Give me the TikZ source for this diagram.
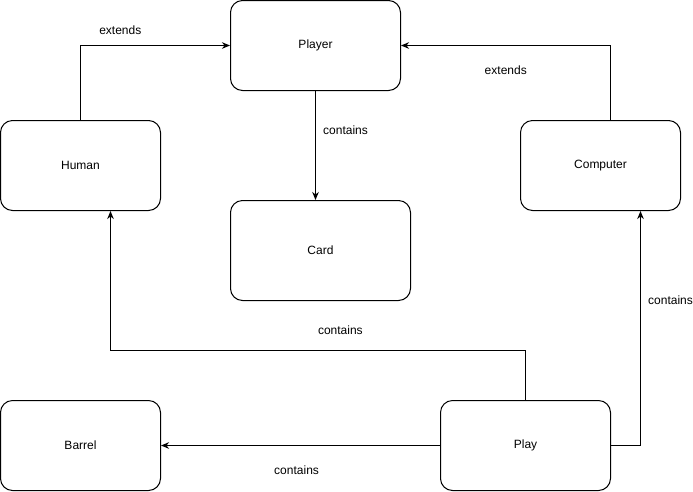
\documentclass[tikz,border=0pt]{standalone}
\usepackage{fontspec}
\setmainfont{Liberation Sans}
\usetikzlibrary{arrows.meta}

\begin{document}
\begin{tikzpicture}[x=1pt,y=-1pt,>={Stealth[length=8pt,width=6.5pt,inset=2.5pt]},line width=1pt,
  font=\fontsize{12}{14}\selectfont,
  box/.style={draw,rounded corners=12pt,minimum width=160pt,minimum height=90pt},
  hv/.style={to path={|- (\tikztotarget) \tikztonodes}},
  vh/.style={to path={-| (\tikztotarget) \tikztonodes}}]
\useasboundingbox (0,0) rectangle (693,491);


\node[box,minimum width=170pt]   (player)   at (315.5,45.5)  {Player};
 \node[box]                      (human)    at (80.5,165.5)  {Human};
 \node[box]                      (computer) at (600.5,165.5) {Computer};
 \node[box,minimum width=180pt,minimum height=100pt] (card) at (320.5,250.5) {Card};
 \node[box]                      (barrel)   at (80.5,445.5)  {Barrel};
 \node[box,minimum width=170pt]  (play)     at (525.5,445.5) {Play};



	\path[->] (human.north)  edge[hv]  node[pos=0.633,yshift=15pt]{extends}  (player.west)
						([xshift=10pt]computer.north)  edge[hv]  node[pos=0.75,yshift=-25pt]{extends}  (player.east)
						(player.south)  edge  node[pos=0.36,xshift=30pt]{contains}  (player.south |- card.north)
						(play.west)  edge  node[pos=0.514,yshift=-25pt]{contains}  (barrel.east)
						(play.east)  edge[vh]  node[pos=0.81,xshift=30pt]{contains}  ([xshift=40pt]computer.south);

	\draw[->] (play.north) -- ++(0,-50) -| node[pos=0.223,yshift=20pt]{contains} ([xshift=30pt]human.south);
	\end{tikzpicture}
\end{document}
